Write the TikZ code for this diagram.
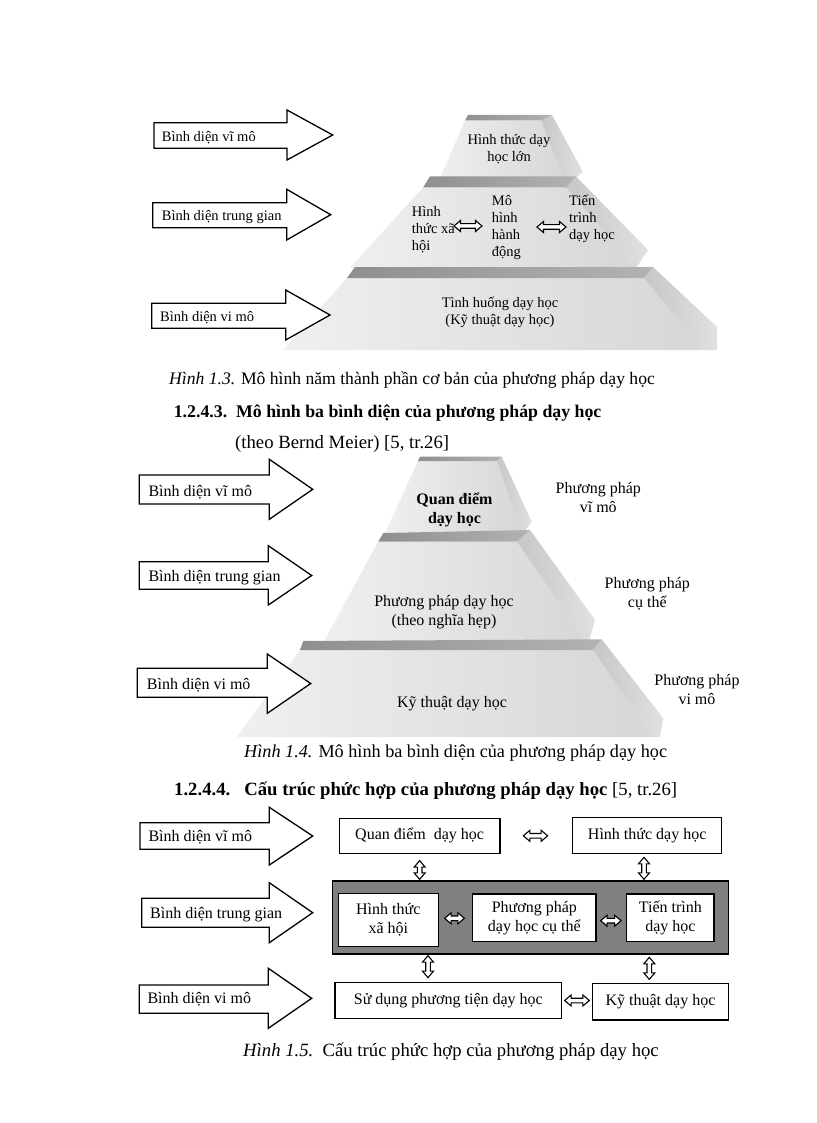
\documentclass[tikz,border=0pt]{standalone}
\usepackage{fontspec}
\setmainfont{Liberation Serif}
\usetikzlibrary{arrows.meta,calc}
\tikzset{
 blk/.style={draw=black, fill=white, line width=1.3pt, line join=miter},
 dblk/.style={draw=black, fill=white, line width=1.1pt, line join=miter},
 lab/.style={font=\fontsize{16}{19}\selectfont, inner sep=0pt, anchor=base west},
 labs/.style={font=\fontsize{14.5}{17}\selectfont, inner sep=0pt, anchor=base west},
 ptxt/.style={font=\fontsize{16}{19}\selectfont, inner sep=0pt, align=center},
 ptxts/.style={font=\fontsize{14.5}{17}\selectfont, inner sep=0pt, align=center},
 ptxtl/.style={font=\fontsize{14.5}{17}\selectfont, inner sep=0pt, align=left, anchor=west},
 box/.style={draw=black, fill=white, line width=1.3pt, inner sep=0pt, align=center, font=\fontsize{16}{19}\selectfont},
 front/.style={left color=black!6, right color=black!16},
 side/.style={left color=black!22, right color=black!12},
 topf/.style={left color=black!44, right color=black!30},
 capt/.style={inner sep=0pt, anchor=base west},
}
\newcommand\blockarr[8]{\path[blk] (#1,#2) -- (#4,#2) -- (#4,#5) -- (#7,#8) -- (#4,#6) -- (#4,#3) -- (#1,#3) -- cycle;}
% horizontal double block arrow from #1 (left) to #2 (right)
\newcommand\hdarrow[2]{\path[dblk] (#1) -- ($(#1)+(6.5,-5.5)$) -- ($(#1)+(6.5,-2.3)$) -- ($(#2)+(-6.5,-2.3)$) -- ($(#2)+(-6.5,-5.5)$) -- (#2) -- ($(#2)+(-6.5,5.5)$) -- ($(#2)+(-6.5,2.3)$) -- ($(#1)+(6.5,2.3)$) -- ($(#1)+(6.5,5.5)$) -- cycle;}
% vertical double block arrow from #1 (top) to #2 (bottom)
\newcommand\vdarrow[2]{\path[dblk] (#1) -- ($(#1)+(5.5,6.5)$) -- ($(#1)+(2.3,6.5)$) -- ($(#2)+(2.3,-6.5)$) -- ($(#2)+(5.5,-6.5)$) -- (#2) -- ($(#2)+(-5.5,-6.5)$) -- ($(#2)+(-2.3,-6.5)$) -- ($(#1)+(-2.3,6.5)$) -- ($(#1)+(-5.5,6.5)$) -- cycle;}
\begin{document}
\begin{tikzpicture}[x=1pt,y=-1pt]
\useasboundingbox[fill=white] (0,0) rectangle (816,1123);

% ---------- Figure 1.3 ----------
\shade[front] (465,120.5) -- (541,120.5) -- (566,185) -- (437,185) -- cycle;
\shade[side] (541,120.5) -- (552,115) -- (583,172) -- (566,185) -- cycle;
\shade[topf] (468,115) -- (552,115) -- (541,120.5) -- (465,120.5) -- cycle;

\shade[front] (423,187.5) -- (566,187.5) -- (636,268) -- (350,268) -- cycle;
\shade[side] (566,187.5) -- (576,176.5) -- (648,250) -- (636,268) -- cycle;
\shade[topf] (430,176.5) -- (576,176.5) -- (566,187.5) -- (423,187.5) -- cycle;

\shade[front] (347,278) -- (644,278) -- (702,350) -- (283,350) -- cycle;
\shade[side] (644,278) -- (653,267) -- (717,327) -- (717,350) -- (702,350) -- cycle;
\shade[topf] (355,267) -- (653,267) -- (644,278) -- (347,278) -- cycle;

\blockarr{154}{122.7}{148.3}{287}{110}{160}{332.7}{135}
\blockarr{152.7}{202.7}{227.7}{286.7}{189.3}{240}{330.7}{214.7}
\blockarr{151.7}{303.3}{328.3}{285.7}{290}{340}{330}{315}
\node[labs] (l13a) at (161.7,141.5) {Bình diện vĩ mô};
\node[labs] (l13b) at (161.7,221) {Bình diện trung gian};
\node[labs] (l13c) at (160,321.7) {Bình diện vi mô};

\node[ptxts] (t13a) at (509,149) {Hình thức dạy\\học lớn};
\node[ptxtl] (t13b) at (411.7,230) {Hình\\thức xã\\hội};
\node[ptxtl] (t13c) at (491.7,227.5) {Mô\\hình\\hành\\động};
\node[ptxtl] (t13d) at (569,219) {Tiến\\trình\\dạy học};
\node[ptxts] (t13e) at (500,312.5) {Tình huống dạy học\\(Kỹ thuật dạy học)};
\coordinate (d1a) at (454,226);
\coordinate (d1b) at (482,226);
\coordinate (d2a) at (537,227);
\coordinate (d2b) at (566,227);
\hdarrow{d1a}{d1b}
\hdarrow{d2a}{d2b}

\node[capt, font=\fontsize{17.6}{21}\selectfont] (c13) at (169,384) {\textit{Hình 1.3.} Mô hình năm thành phần cơ bản của phương pháp dạy học};
\node[capt, font=\fontsize{17.8}{21}\selectfont\bfseries] (h1) at (173.6,417) {1.2.4.3.\ \ Mô hình ba bình diện của phương pháp dạy học};
\node[capt, font=\fontsize{18.7}{22}\selectfont] (h1b) at (235,448) {(theo Bernd Meier) [5, tr.26]};

% ---------- Figure 1.4 ----------
\shade[front] (418,461) -- (497,461) -- (522,535) -- (384,535) -- cycle;
\shade[side] (497,461) -- (501.7,456.7) -- (531.7,521.7) -- (522,535) -- cycle;
\shade[topf] (420,456.7) -- (501.7,456.7) -- (497,461) -- (418,461) -- cycle;

\shade[front] (378.3,541.7) -- (517,541.7) -- (588,645) -- (322,645) -- cycle;
\shade[side] (517,541.7) -- (530,530) -- (595,620) -- (588,645) -- cycle;
\shade[topf] (383.3,533) -- (530,530) -- (517,541.7) -- (378.3,541.7) -- cycle;

\shade[front] (300,650) -- (593,650) -- (652,737) -- (237,737) -- cycle;
\shade[side] (593,650) -- (601.7,639.3) -- (663.3,718.3) -- (660,737) -- (652,737) -- cycle;
\shade[topf] (303.3,641) -- (601.7,639.3) -- (593,650) -- (300,650) -- cycle;

\blockarr{139.3}{475}{504}{269.3}{459.3}{519.3}{312.7}{489.3}
\blockarr{139.3}{561.7}{589.3}{268.3}{545.7}{605}{311.7}{575.5}
\blockarr{137.3}{668.3}{697.3}{267.3}{654}{713.3}{310.7}{683.5}
\node[lab] (l14a) at (148.3,496) {Bình diện vĩ mô};
\node[lab] (l14b) at (148.3,581.5) {Bình diện trung gian};
\node[lab] (l14c) at (146.7,689) {Bình diện vi mô};

\node[ptxt, font=\fontsize{16}{19}\selectfont\bfseries] (q14) at (454.5,509.5) {Quan điểm\\dạy học};
\node[ptxt] (pvm) at (598.3,497.5) {Phương pháp\\vĩ mô};
\node[ptxt] (pct) at (647.3,593.5) {Phương pháp\\cụ thể};
\node[ptxt] (pvi) at (697,689.5) {Phương pháp\\vi mô};
\node[ptxt] (ppn) at (444,612.5) {Phương pháp dạy học\\(theo nghĩa hẹp)};
\node[ptxt] (kt14) at (452,704) {Kỹ thuật dạy học};

\node[capt, font=\fontsize{18.2}{22}\selectfont] (c14) at (244,757) {\textit{Hình 1.4.} Mô hình ba bình diện của phương pháp dạy học};
\node[capt, font=\fontsize{18.7}{22}\selectfont] (h2) at (174,795.5) {\textbf{1.2.4.4.\ \ \ Cấu trúc phức hợp của phương pháp dạy học} [5, tr.26]};

% ---------- Figure 1.5 ----------
\blockarr{140}{822.7}{849.3}{269.3}{807.3}{865}{312.7}{836}
\blockarr{141.7}{898.3}{927.3}{269.3}{882.7}{942.7}{312.7}{912.7}
\blockarr{139.3}{985}{1013.3}{268.3}{968.3}{1028.3}{311.7}{998.3}
\node[lab] (l15a) at (148.3,841.3) {Bình diện vĩ mô};
\node[lab] (l15b) at (150,918) {Bình diện trung gian};
\node[lab] (l15c) at (147.3,1003.6) {Bình diện vi mô};

\node[box, minimum width=160.7pt, minimum height=35pt] (qd) at (419.65,835.8) {Quan điểm\ \ dạy học};
\node[box, minimum width=149pt, minimum height=36pt] (htd) at (647.2,835.3) {Hình thức dạy học};
\node[draw=black, line width=1.3pt, fill=black!50, minimum width=395.6pt, minimum height=73pt, inner sep=0pt] (frame) at (530.5,917.5) {};
\node[box, minimum width=100pt, minimum height=53.4pt] (htxh) at (388.3,920) {Hình thức\\xã hội};
\node[box, minimum width=123.3pt, minimum height=47.7pt] (ppdh) at (534.35,917.85) {Phương pháp\\dạy học cụ thể};
\node[box, minimum width=87.3pt, minimum height=47.7pt] (ttdh) at (670.35,917.85) {Tiến trình\\dạy học};
\node[box, minimum width=226.7pt, minimum height=35.6pt] (sdpt) at (448.35,1000.5) {Sử dụng phương tiện dạy học};
\node[box, minimum width=135.6pt, minimum height=36.7pt] (ktdh) at (660.5,1001.65) {Kỹ thuật dạy học};

% horizontal connectors
\coordinate (h1s) at ([xshift=22.7pt]qd.east);
\coordinate (h1e) at ([xshift=-24.4pt]qd.east -| htd.west);
\hdarrow{h1s}{h1e}
\coordinate (h2s) at ([xshift=5.7pt,yshift=1.7pt]htxh.east);
\coordinate (h2e) at ([xshift=-7.7pt,yshift=1.7pt]htxh.east -| ppdh.west);
\hdarrow{h2s}{h2e}
\coordinate (h3s) at ([xshift=4pt,yshift=-2.85pt]ppdh.east);
\coordinate (h3e) at ([xshift=-5pt,yshift=-2.85pt]ppdh.east -| ttdh.west);
\hdarrow{h3s}{h3e}
\coordinate (h4s) at ([xshift=2.3pt]sdpt.east);
\coordinate (h4e) at ([xshift=-2.7pt]sdpt.east -| ktdh.west);
\hdarrow{h4s}{h4e}
% vertical connectors
\coordinate (vx2) at (644,0);
\coordinate (vx3) at (428,0);
\coordinate (vx4) at (649.3,0);
\coordinate (v1s) at ([yshift=-6.7pt]qd.south);
\coordinate (v1e) at ([yshift=1pt]qd.south |- frame.north);
\vdarrow{v1s}{v1e}
\coordinate (v2s) at ([yshift=-3.4pt]htd.south -| vx2);
\coordinate (v2e) at ([yshift=1pt]frame.north -| vx2);
\vdarrow{v2s}{v2e}
\coordinate (v3s) at ([yshift=-1pt]frame.south -| vx3);
\coordinate (v3e) at ([yshift=4.4pt]sdpt.north -| vx3);
\vdarrow{v3s}{v3e}
\coordinate (v4s) at ([yshift=-2.7pt]frame.south -| vx4);
\coordinate (v4e) at ([yshift=3.3pt]ktdh.north -| vx4);
\vdarrow{v4s}{v4e}

\node[capt, font=\fontsize{18.7}{22}\selectfont] (c15) at (243,1056) {\textit{Hình 1.5.}\ \ Cấu trúc phức hợp của phương pháp dạy học};
\end{tikzpicture}
\end{document}
